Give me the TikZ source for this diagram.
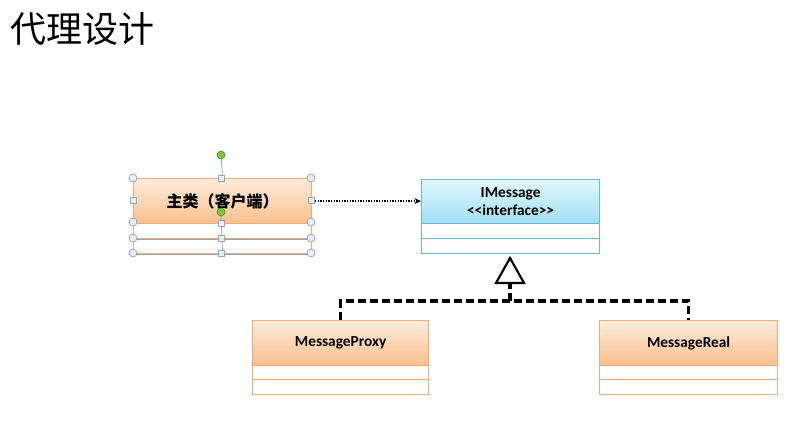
\documentclass[tikz,border=0pt]{standalone}
\usepackage{fontspec}
\setmainfont{Carlito}
\newfontfamily\cjk{Noto Sans CJK SC}
\usetikzlibrary{arrows.meta}
\definecolor{orTop}{RGB}{254,236,220}
\definecolor{orBot}{RGB}{250,192,140}
\definecolor{orLine}{RGB}{238,170,120}
\definecolor{blTop}{RGB}{226,247,253}
\definecolor{blBot}{RGB}{160,224,246}
\definecolor{blLine}{RGB}{110,182,214}
\definecolor{selLine}{RGB}{150,165,190}
\definecolor{hdlFill}{RGB}{232,240,250}
\definecolor{grn}{RGB}{120,200,60}
\tikzset{
  x=0.75pt, y=-0.75pt,
  orhdr/.style={draw=orLine, line width=0.9pt, top color=orTop, bottom color=orBot,
    anchor=north west, inner sep=0pt, minimum height=33.75pt, font=\bfseries\fontsize{11.5}{13}\selectfont},
  blhdr/.style={draw=blLine, line width=0.9pt, top color=blTop, bottom color=blBot,
    anchor=north west, inner sep=0pt, minimum height=33pt, align=center, font=\bfseries\fontsize{11.5}{14}\selectfont},
  orcomp/.style={draw=orLine, line width=0.9pt, fill=white, anchor=north west, inner sep=0pt, minimum height=10.5pt},
  blcomp/.style={draw=blLine, line width=0.9pt, fill=white, anchor=north west, inner sep=0pt, minimum height=11.25pt},
  depend/.style={densely dotted, line width=1pt, -{Stealth[length=5pt,width=4.5pt]}},
  realize/.style={dashed, dash pattern=on 6pt off 3pt, line width=2.4pt},
  hcirc/.style={circle, draw=selLine, fill=hdlFill, line width=0.6pt, minimum size=6pt, inner sep=0pt},
  hsq/.style={rectangle, draw=selLine, fill=hdlFill, line width=0.6pt, minimum size=4.5pt, inner sep=0pt},
  hgrn/.style={circle, draw=grn!70!black, fill=grn, line width=0.5pt, minimum size=6pt, inner sep=0pt},
}
\begin{document}
\begin{tikzpicture}
\useasboundingbox (0,0) rectangle (812,425);
% title
\node[anchor=west, inner sep=0pt, font=\cjk\fontsize{27}{30}\selectfont] (title) at (10,29) {代理设计};

% main class (client)
\node[orhdr, minimum width=133.5pt] (mainh) at (133,178) {\cjk\bfseries\fontsize{12}{14}\selectfont 主类（客户端）};
\node[orcomp, minimum width=133.5pt, minimum height=11.25pt] (mainc1) at (133,223) {};
\node[orcomp, minimum width=133.5pt, minimum height=11.25pt] (mainc2) at (133,238) {};

% IMessage
\node[blhdr, minimum width=133.5pt] (imh) at (421,179) {IMessage\\{<}{<}interface{>}{>}};
\node[blcomp, minimum width=133.5pt] (imc1) at (421,223) {};
\node[blcomp, minimum width=133.5pt] (imc2) at (421,238) {};

% MessageProxy
\node[orhdr, minimum width=132pt] (proxyh) at (252,320) {MessageProxy};
\node[orcomp, minimum width=132pt] (proxyc1) at (252,365) {};
\node[orcomp, minimum width=132pt, minimum height=11.25pt] (proxyc2) at (252,379) {};

% MessageReal
\node[orhdr, minimum width=133.5pt] (realh) at (599,320) {MessageReal};
\node[orcomp, minimum width=133.5pt] (realc1) at (599,365) {};
\node[orcomp, minimum width=133.5pt, minimum height=11.25pt] (realc2) at (599,379) {};

% dependency
\draw[depend] (mainh.east) -- (imh.west |- mainh.east);

% realization
\coordinate (j) at (510,301);
\draw[realize] (proxyh.north) |- (j) -| (realh.north);
\draw[realize, shorten >=3pt] (j) -- (j |- imc2.south);
\draw[line width=1.6pt, fill=white] (496,283) -- (510,258) -- (524,283) -- cycle;

% selection handles on main class
\draw[selLine, line width=0.6pt] (221,155) -- (mainh.north);
\draw[selLine, line width=0.6pt] (221,212) -- (mainc2.south);
\draw[selLine, line width=0.8pt] (mainc1.south west) -- (mainc1.south east);
\draw[selLine, line width=0.8pt] (mainc2.south west) -- (mainc2.south east);
\foreach \p in {(133,178),(311,178),(133,222),(311,222),(133,238),(311,238),(133,253),(311,253)}
  \node[hcirc] at \p {};
\foreach \p in {(221,178),(133,200),(311,200),(221,223),(221,238),(221,253)}
  \node[hsq] at \p {};
\node[hgrn] at (221,155) {};
\node[hgrn] at (221,212) {};
\end{tikzpicture}
\end{document}
